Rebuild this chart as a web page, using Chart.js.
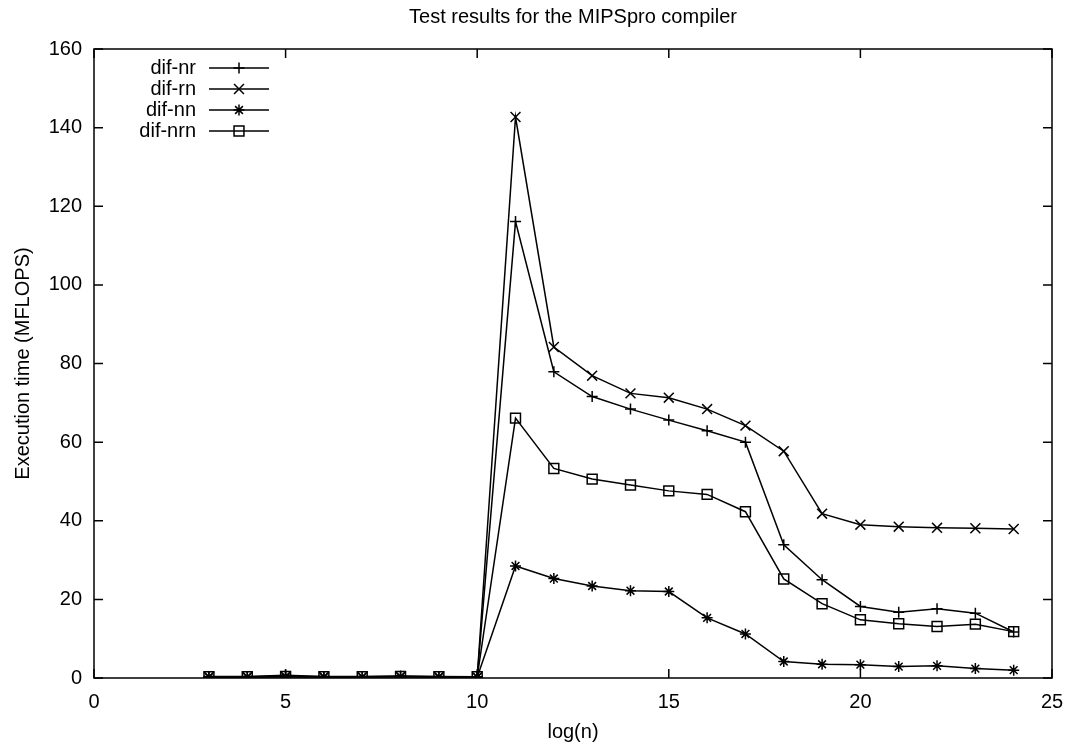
<!DOCTYPE html>
<html>
<head>
<meta charset="utf-8">
<script src="https://cdn.jsdelivr.net/npm/chart.js@4/dist/chart.umd.min.js"></script>
<style>
  html, body { margin: 0; padding: 0; background: #fff; }
  #wrap { width: 1066px; height: 744px; }
</style>
</head>
<body>
<div id="wrap"><canvas id="plot"></canvas></div>
<script>
const logN = [3, 4, 5, 6, 7, 8, 9, 10, 11, 12, 13, 14, 15, 16, 17, 18, 19, 20, 21, 22, 23, 24];
const difNr = [0.4, 0.4, 0.7, 0.4, 0.4, 0.5, 0.4, 0.3, 116.1, 77.9, 71.6, 68.4, 65.6, 62.9, 60.0, 33.9, 25.0, 18.2, 16.7, 17.6, 16.5, 11.7];
const difRn = [0.3, 0.3, 0.4, 0.3, 0.3, 0.4, 0.3, 0.2, 142.7, 84.2, 76.9, 72.4, 71.3, 68.4, 64.2, 57.7, 41.8, 39.0, 38.5, 38.2, 38.1, 37.9];
const difNn = [0.2, 0.2, 0.3, 0.2, 0.2, 0.3, 0.2, 0.2, 28.5, 25.3, 23.4, 22.2, 22.0, 15.3, 11.2, 4.2, 3.5, 3.4, 2.9, 3.1, 2.4, 2.0];
const difNrn = [0.3, 0.3, 0.4, 0.3, 0.3, 0.4, 0.3, 0.3, 66.1, 53.3, 50.6, 49.1, 47.6, 46.7, 42.3, 25.2, 18.9, 14.8, 13.8, 13.1, 13.7, 11.8];
const xTicks = [0, 5, 10, 15, 20, 25];
const yTicks = [0, 20, 40, 60, 80, 100, 120, 140, 160];

const FONT = '"Liberation Sans", Arial, sans-serif';

function series(label, values, style, radius) {
  return {
    label: label,
    data: logN.map((x, i) => ({ x: x, y: values[i] })),
    borderColor: '#000',
    borderWidth: 1.5,
    pointStyle: style,
    pointRadius: radius,
    pointBorderColor: '#000',
    pointBorderWidth: 1.5,
    pointBackgroundColor: 'rgba(0,0,0,0)',
    tension: 0,
    fill: false
  };
}

// gnuplot style border with inward ticks on all four sides
const frame = {
  id: 'frame',
  afterDatasetsDraw(chart) {
    const { ctx, chartArea: a, scales } = chart;
    ctx.save();
    ctx.strokeStyle = '#000';
    ctx.lineWidth = 1.5;
    ctx.beginPath();
    xTicks.forEach(v => {
      const px = scales.x.getPixelForValue(v);
      ctx.moveTo(px, a.bottom); ctx.lineTo(px, a.bottom - 9);
      ctx.moveTo(px, a.top); ctx.lineTo(px, a.top + 9);
    });
    yTicks.forEach(v => {
      const py = scales.y.getPixelForValue(v);
      ctx.moveTo(a.left, py); ctx.lineTo(a.left + 9, py);
      ctx.moveTo(a.right, py); ctx.lineTo(a.right - 9, py);
    });
    ctx.stroke();
    ctx.strokeRect(a.left, a.top, a.right - a.left, a.bottom - a.top);
    ctx.restore();
  }
};

// key in the top left, text right aligned then a sample line with the marker
const key = {
  id: 'key',
  afterDraw(chart) {
    const { ctx } = chart;
    ctx.save();
    ctx.font = '20px ' + FONT;
    ctx.textAlign = 'right';
    ctx.textBaseline = 'middle';
    chart.data.datasets.forEach((ds, i) => {
      const y = 68 + i * 21;
      ctx.fillStyle = '#000';
      ctx.fillText(ds.label, 196, y);
      ctx.strokeStyle = '#000';
      ctx.lineWidth = 1.5;
      ctx.beginPath();
      ctx.moveTo(209, y); ctx.lineTo(269, y);
      ctx.stroke();
      ctx.fillStyle = 'rgba(0,0,0,0)';
      Chart.helpers.drawPoint(ctx, { pointStyle: ds.pointStyle, radius: ds.pointRadius, borderWidth: 1.5, rotation: 0 }, 239, y);
    });
    ctx.restore();
  }
};

new Chart(document.getElementById('plot'), {
  type: 'line',
  data: {
    datasets: [
      series('dif-nr', difNr, 'cross', 5.5),
      series('dif-rn', difRn, 'crossRot', 7),
      series('dif-nn', difNn, 'star', 5.5),
      series('dif-nrn', difNrn, 'rect', 7)
    ]
  },
  options: {
    responsive: true,
    maintainAspectRatio: false,
    animation: false,
    layout: { padding: { left: 0, right: 14, top: 0, bottom: 0 } },
    plugins: {
      legend: { display: false },
      tooltip: { enabled: false },
      title: {
        display: true,
        fullSize: false,
        text: 'Test results for the MIPSpro compiler',
        color: '#000',
        font: { family: FONT, size: 20, weight: 'normal' },
        padding: { top: 5, bottom: 20 }
      }
    },
    scales: {
      x: {
        type: 'linear',
        min: 0,
        max: 25,
        afterFit: s => { s.height = 66; s.paddingLeft = 0; s.paddingRight = 0; },
        afterBuildTicks: s => { s.ticks = xTicks.map(v => ({ value: v })); },
        grid: { display: false, drawTicks: false },
        border: { display: false },
        ticks: { color: '#000', padding: 12, font: { family: FONT, size: 20 }, maxRotation: 0 },
        title: { display: true, text: 'log(n)', color: '#000', font: { family: FONT, size: 20 }, padding: { top: 0, bottom: 0 } }
      },
      y: {
        type: 'linear',
        min: 0,
        max: 160,
        afterFit: s => { s.width = 94; s.paddingTop = 0; s.paddingBottom = 0; },
        afterBuildTicks: s => { s.ticks = yTicks.map(v => ({ value: v })); },
        grid: { display: false, drawTicks: false },
        border: { display: false },
        ticks: { color: '#000', padding: 12, font: { family: FONT, size: 20 } },
        title: { display: true, text: 'Execution time (MFLOPS)', color: '#000', font: { family: FONT, size: 20 }, padding: { top: 11, bottom: 0 } }
      }
    }
  },
  plugins: [frame, key]
});
</script>
</body>
</html>
